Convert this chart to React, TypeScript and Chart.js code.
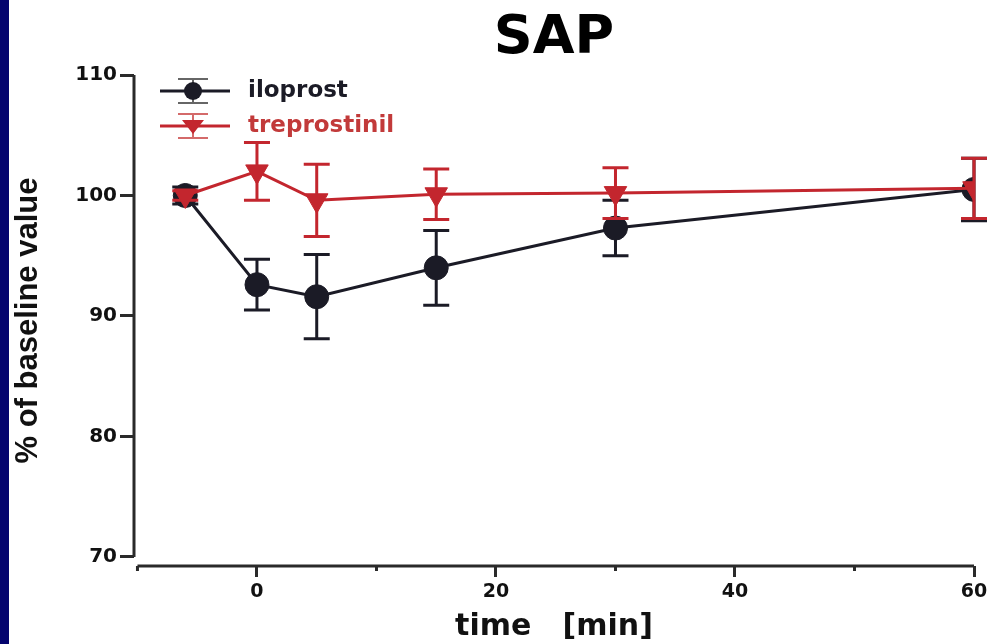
import React, { useEffect, useRef } from 'react';
import { Chart, registerables } from 'chart.js';

Chart.register(...registerables);

// ---- data ----
const times = [-6, 0, 5, 15, 30, 60];
const iloprostMean = [100, 92.6, 91.6, 94.0, 97.3, 100.5];
const iloprostErr = [0.7, 2.1, 3.5, 3.1, 2.3, 2.6];
const treprostinilMean = [100, 102.0, 99.6, 100.1, 100.2, 100.6];
const treprostinilErr = [0.4, 2.4, 3.0, 2.1, 2.1, 2.5];
const seriesNames = ['iloprost', 'treprostinil'];
const xTickValues = [-10, 0, 10, 20, 30, 40, 50, 60];
const xLabeledTicks = [0, 20, 40, 60];
const yTickValues = [70, 80, 90, 100, 110];

const BLACK = '#1b1b26';
const RED = '#c3262e';
const AXIS = '#2a2a2a';
const FONT = '"DejaVu Sans", Arial, sans-serif';

const errorsByName: Record<string, number[]> = {
  iloprost: iloprostErr,
  treprostinil: treprostinilErr,
};

const errorBarPlugin = {
  id: 'errorBars',
  beforeDatasetDraw(chart: any, args: any) {
    const ds = chart.data.datasets[args.index];
    const errs = errorsByName[ds.label];
    if (!errs) return;
    const { ctx } = chart;
    const xs = chart.scales.x;
    const ys = chart.scales.y;
    ctx.save();
    ctx.strokeStyle = ds.borderColor;
    ctx.lineWidth = 3;
    ds.data.forEach((p: any, i: number) => {
      const px = xs.getPixelForValue(p.x);
      const top = ys.getPixelForValue(p.y + errs[i]);
      const bot = ys.getPixelForValue(p.y - errs[i]);
      ctx.beginPath();
      ctx.moveTo(px, top);
      ctx.lineTo(px, bot);
      ctx.moveTo(px - 13, top);
      ctx.lineTo(px + 13, top);
      ctx.moveTo(px - 13, bot);
      ctx.lineTo(px + 13, bot);
      ctx.stroke();
    });
    ctx.restore();
  },
};

const axesPlugin = {
  id: 'prismAxes',
  beforeDatasetsDraw(chart: any) {
    const { ctx, chartArea } = chart;
    const xs = chart.scales.x;
    const ys = chart.scales.y;
    ctx.save();
    ctx.strokeStyle = AXIS;
    ctx.lineWidth = 3;
    // y axis line
    ctx.beginPath();
    ctx.moveTo(chartArea.left, ys.getPixelForValue(yTickValues[0]));
    ctx.lineTo(chartArea.left, ys.getPixelForValue(yTickValues[yTickValues.length - 1]));
    ctx.stroke();
    // x axis line (offset below)
    ctx.beginPath();
    ctx.moveTo(xs.getPixelForValue(xTickValues[0]), chartArea.bottom);
    ctx.lineTo(xs.getPixelForValue(xTickValues[xTickValues.length - 1]), chartArea.bottom);
    ctx.stroke();
    // minor x ticks
    xTickValues.forEach((v) => {
      if (xLabeledTicks.includes(v)) return;
      const px = xs.getPixelForValue(v);
      ctx.beginPath();
      ctx.moveTo(px, chartArea.bottom);
      ctx.lineTo(px, chartArea.bottom + 5);
      ctx.stroke();
    });
    ctx.restore();
  },
};

const legendPlugin = {
  id: 'insetLegend',
  afterDraw(chart: any) {
    const { ctx, chartArea } = chart;
    const textColors = [BLACK, '#c23a3a'];
    ctx.save();
    seriesNames.forEach((name, i) => {
      const ds = chart.data.datasets.find((d: any) => d.label === name);
      const color = ds.borderColor;
      const cy = chartArea.top + 16 + i * 35;
      const x0 = chartArea.left + 26;
      const cx = chartArea.left + 59;
      // error bar
      ctx.strokeStyle = i === 0 ? '#666' : '#d46a6a';
      ctx.lineWidth = 2;
      ctx.beginPath();
      ctx.moveTo(cx, cy - 12);
      ctx.lineTo(cx, cy + 12);
      ctx.moveTo(cx - 15, cy - 12);
      ctx.lineTo(cx + 15, cy - 12);
      ctx.moveTo(cx - 15, cy + 12);
      ctx.lineTo(cx + 15, cy + 12);
      ctx.stroke();
      // line
      ctx.strokeStyle = color;
      ctx.lineWidth = 3;
      ctx.beginPath();
      ctx.moveTo(x0, cy);
      ctx.lineTo(x0 + 70, cy);
      ctx.stroke();
      // marker
      ctx.fillStyle = color;
      ctx.beginPath();
      if (ds.pointStyle === 'circle') {
        ctx.arc(cx, cy, 9, 0, Math.PI * 2);
      } else {
        ctx.moveTo(cx - 11, cy - 6);
        ctx.lineTo(cx + 11, cy - 6);
        ctx.lineTo(cx, cy + 8);
        ctx.closePath();
      }
      ctx.fill();
      // text
      ctx.fillStyle = textColors[i];
      ctx.font = `bold 23px ${FONT}`;
      ctx.textBaseline = 'middle';
      ctx.textAlign = 'left';
      ctx.fillText(name, chartArea.left + 114, cy);
    });
    ctx.restore();
  },
};

export default function App() {
  const canvasRef = useRef<HTMLCanvasElement | null>(null);

  useEffect(() => {
    if (!canvasRef.current) return;
    const chart = new Chart(canvasRef.current, {
      type: 'line',
      data: {
        datasets: [
          {
            label: seriesNames[0],
            data: times.map((t, i) => ({ x: t, y: iloprostMean[i] })),
            borderColor: BLACK,
            backgroundColor: BLACK,
            borderWidth: 3,
            pointStyle: 'circle',
            pointRadius: 12,
            pointBorderWidth: 1,
            pointBackgroundColor: BLACK,
            pointBorderColor: BLACK,
            tension: 0,
            order: 2,
          },
          {
            label: seriesNames[1],
            data: times.map((t, i) => ({ x: t, y: treprostinilMean[i] })),
            borderColor: RED,
            backgroundColor: RED,
            borderWidth: 3,
            pointStyle: 'triangle',
            pointRotation: 180,
            pointRadius: 13,
            pointBorderWidth: 1,
            pointBackgroundColor: RED,
            pointBorderColor: RED,
            tension: 0,
            order: 1,
          },
        ],
      },
      options: {
        animation: false,
        responsive: true,
        maintainAspectRatio: false,
        layout: { padding: { top: 0, left: 0, right: 14, bottom: 0 } },
        plugins: {
          legend: { display: false },
          tooltip: { enabled: false },
          title: {
            display: true,
            text: 'SAP',
            fullSize: false,
            color: '#000',
            font: { family: FONT, size: 54, weight: 'bold', lineHeight: 1 },
            padding: { top: 12, bottom: 9 },
          },
        },
        scales: {
          x: {
            type: 'linear',
            min: -10.29,
            max: 60,
            afterBuildTicks: (scale: any) => {
              scale.ticks = xTickValues.map((v) => ({ value: v }));
            },
            afterFit: (scale: any) => {
              scale.height = 78;
              scale.paddingRight = 0;
              scale.paddingLeft = 0;
            },
            border: { display: false },
            grid: {
              display: true,
              drawOnChartArea: false,
              drawTicks: true,
              tickLength: 11,
              tickWidth: 3,
              tickColor: (c: any) =>
                c.tick && xLabeledTicks.includes(c.tick.value) ? AXIS : 'rgba(0,0,0,0)',
            },
            ticks: {
              padding: 4,
              color: '#111',
              font: { family: FONT, size: 19, weight: 'bold' },
              maxRotation: 0,
              autoSkip: false,
              callback: (v: any) => (xLabeledTicks.includes(v) ? String(v) : ''),
            },
            title: {
              display: true,
              text: 'time   [min]',
              color: '#111',
              font: { family: FONT, size: 30, weight: 'bold', lineHeight: 1 },
              padding: { top: 0, bottom: 2 },
            },
          },
          y: {
            type: 'linear',
            min: 69.25,
            max: 110,
            afterBuildTicks: (scale: any) => {
              scale.ticks = yTickValues.map((v) => ({ value: v }));
            },
            afterFit: (scale: any) => {
              scale.width = 134;
            },
            border: { display: false },
            grid: {
              display: true,
              drawOnChartArea: false,
              drawTicks: true,
              tickLength: 14,
              tickWidth: 3,
              tickColor: AXIS,
            },
            ticks: {
              padding: 3,
              color: '#111',
              font: { family: FONT, size: 20, weight: 'bold' },
              autoSkip: false,
            },
            title: {
              display: true,
              text: '% of baseline value',
              color: '#111',
              font: { family: '"Liberation Sans", Arial, sans-serif', size: 31, weight: 'bold', lineHeight: 1 },
              padding: { top: 13, bottom: 0 },
            },
          },
        },
      },
      plugins: [axesPlugin, errorBarPlugin, legendPlugin],
    } as any);
    return () => chart.destroy();
  }, []);

  return (
    <div style={{ position: 'fixed', left: 0, top: 0, width: 988, height: 644, background: '#fff', overflow: 'hidden' }}>
      <div style={{ position: 'absolute', left: 0, top: 0, width: 9, height: 644, background: '#04046e' }} />
      <div style={{ position: 'absolute', left: 0, top: 0, width: 988, height: 644 }}>
        <canvas ref={canvasRef} />
      </div>
    </div>
  );
}
